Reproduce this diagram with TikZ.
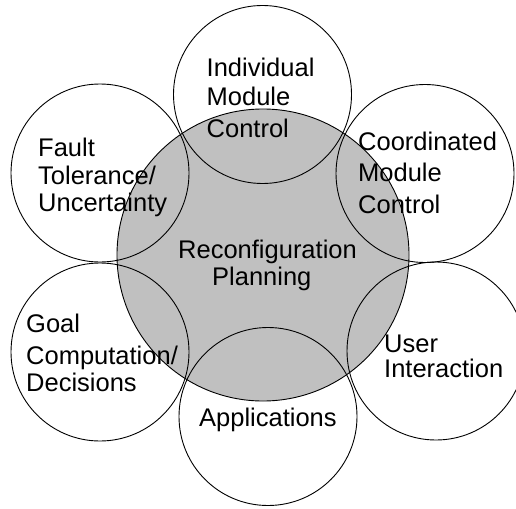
\documentclass[tikz,border=0pt]{standalone}
\usepackage{fontspec}
\setmainfont{Liberation Sans}
\definecolor{planfill}{RGB}{192,192,192}
\tikzset{
  topic/.style={circle, draw=black, line width=0.9pt, minimum size=178pt, inner sep=0pt},
  core/.style={circle, draw=black, line width=0.9pt, fill=planfill, minimum size=292pt, inner sep=0pt},
  % labels are placed by the baseline of their last line
  lbl/.style={anchor=base west, inner sep=0pt, align=left, text=black},
}
\newcommand{\lblfont}[1]{\fontsize{25.5}{#1}\selectfont}
\begin{document}
\begin{tikzpicture}[x=1pt, y=-1pt]
  \useasboundingbox (0,0) rectangle (516,508);
  % central shaded area
  \node[core] (plan) at (263,255) {};
  % surrounding topic circles (outlines only)
  \node[topic] (indiv) at (262.5,94.5) {};
  \node[topic] (fault) at (100,173) {};
  \node[topic] (coord) at (425,173.5) {};
  \node[topic] (goal)  at (100,352) {};
  \node[topic] (user)  at (436,351) {};
  \node[topic] (apps)  at (268,416.5) {};
  % labels
  \node[lbl, font=\lblfont{28.3}] (tindiv) at (206.5,137) {Individual\\Module\\[3.7pt]Control};
  \node[lbl, font=\lblfont{27.5}] (tfault) at (38,211.7) {Fault\\Tolerance/\\Uncertainty};
  \node[lbl, font=\lblfont{31.5}] (tcoord) at (358,213) {Coordinated\\Module\\Control};
  \node[lbl, font=\lblfont{27}] (tplan) at (178,285) {Reconfiguration\\\hspace*{34pt}Planning};
  \node[lbl, font=\lblfont{27}] (tgoal) at (26,391) {Goal\\[5pt]Computation/\\Decisions};
  \node[lbl, font=\lblfont{25}] (tuser) at (384,377) {User\\Interaction};
  \node[lbl, font=\lblfont{27}] (tapps) at (199,426.7) {Applications};
\end{tikzpicture}
\end{document}
